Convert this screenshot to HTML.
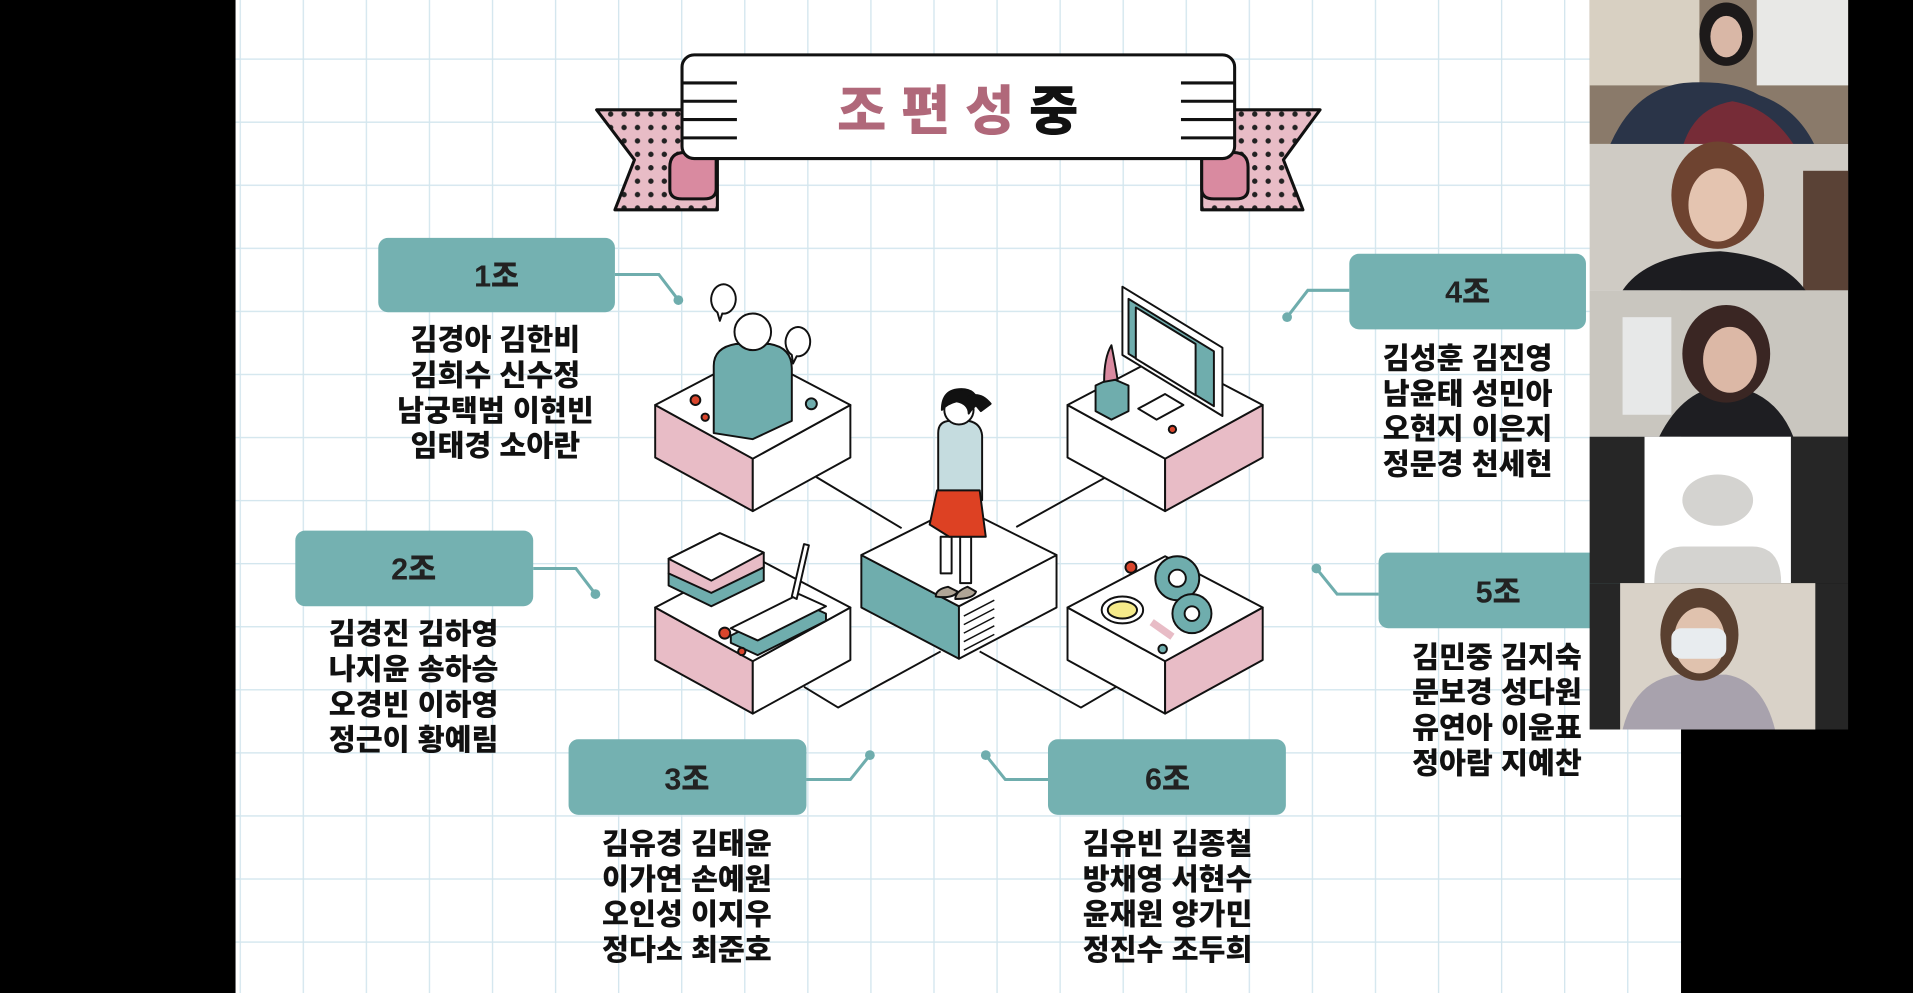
<!DOCTYPE html>
<html><head><meta charset="utf-8"><style>
html,body{margin:0;padding:0;background:#000;}
svg{display:block}
text{font-family:"Liberation Sans","Noto Sans CJK KR",sans-serif;font-weight:900;}
</style></head><body>
<svg width="1913" height="993" viewBox="0 0 1568 814" xmlns="http://www.w3.org/2000/svg">
<defs>
<pattern id="grid" x="248" y="203" width="51.7" height="51.7" patternUnits="userSpaceOnUse">
<rect width="51.7" height="51.7" fill="#fff"/>
<path d="M0 0H51.7M0 0V51.7" stroke="#d3e6ee" stroke-width="2.2"/>
</pattern>
<pattern id="dots" width="11" height="11" patternUnits="userSpaceOnUse">
<rect width="11" height="11" fill="#e8bcc6"/><circle cx="5.5" cy="5.5" r="2.2" fill="#222"/>
</pattern>
</defs>
<rect width="1568" height="814" fill="#000"/>
<rect x="193" y="0" width="1185" height="814" fill="url(#grid)"/>

<!-- banner -->
<g stroke="#111" stroke-width="2.5" stroke-linejoin="round">
<path d="M489 90 H588 V172 H504 L520 131 Z" fill="url(#dots)"/>
<path d="M1082 90 H985 V172 H1068 L1052 131 Z" fill="url(#dots)"/>
<path d="M561 125 q-12 0 -12 12 v18 q0 8 10 8 h18 q10 0 10 -8 v-38z" fill="#d98aa0"/>
<path d="M1011 125 q12 0 12 12 v18 q0 8 -10 8 h-18 q-10 0 -10 -8 v-38z" fill="#d98aa0"/>
<rect x="559" y="45" width="453" height="85" rx="10" fill="#fff"/>
</g>
<g stroke="#111" stroke-width="2.5">
<path d="M559 68h45M559 83h45M559 98h45M559 113h45M968 68h45M968 83h45M968 98h45M968 113h45"/>
</g>
<text x="686" y="106" font-size="44" fill="#b0687a" letter-spacing="12">조편성<tspan fill="#111">중</tspan></text>

<!-- connectors -->
<g stroke="#6fadad" stroke-width="2.5" fill="none">
<path d="M504 225H540L556 246"/><path d="M437 466H472L488 487"/><path d="M661 639H697L713 619"/>
<path d="M1106 238H1072L1055 260"/><path d="M1130 487H1096L1079 466"/><path d="M859 639H824L808 619"/>
</g>
<g fill="#6fadad"><circle cx="556" cy="246" r="4"/><circle cx="488" cy="487" r="4"/><circle cx="713" cy="619" r="4"/><circle cx="1055" cy="260" r="4"/><circle cx="1079" cy="466" r="4"/><circle cx="808" cy="619" r="4"/></g>

<!-- label boxes -->
<g fill="#74b1b1">
<rect x="310" y="195" width="194" height="61" rx="8"/>
<rect x="242" y="435" width="195" height="62" rx="8"/>
<rect x="466" y="606" width="195" height="62" rx="8"/>
<rect x="1106" y="208" width="194" height="62" rx="8"/>
<rect x="1130" y="453" width="200" height="62" rx="8"/>
<rect x="859" y="606" width="195" height="62" rx="8"/>
</g>
<g font-size="25" fill="#222" text-anchor="middle">
<text x="407" y="235">1조</text><text x="339" y="475">2조</text><text x="563" y="647">3조</text>
<text x="1203" y="248">4조</text><text x="1228" y="494">5조</text><text x="957" y="647">6조</text>
</g>
<g font-size="24" fill="#111" text-anchor="middle">
<text x="406" y="287">김경아 김한비</text><text x="406" y="316">김희수 신수정</text><text x="406" y="345">남궁택범 이현빈</text><text x="406" y="374">임태경 소아란</text>
<text x="339" y="528">김경진 김하영</text><text x="339" y="557">나지윤 송하승</text><text x="339" y="586">오경빈 이하영</text><text x="339" y="615">정근이 황예림</text>
<text x="563" y="700">김유경 김태윤</text><text x="563" y="729">이가연 손예원</text><text x="563" y="758">오인성 이지우</text><text x="563" y="787">정다소 최준호</text>
<text x="1203" y="302">김성훈 김진영</text><text x="1203" y="331">남윤태 성민아</text><text x="1203" y="360">오현지 이은지</text><text x="1203" y="389">정문경 천세현</text>
<text x="1227" y="547">김민중 김지숙</text><text x="1227" y="576">문보경 성다원</text><text x="1227" y="605">유연아 이윤표</text><text x="1227" y="634">정아람 지예찬</text>
<text x="957" y="700">김유빈 김종철</text><text x="957" y="729">방채영 서현수</text><text x="957" y="758">윤재원 양가민</text><text x="957" y="787">정진수 조두희</text>
</g>

<!-- illustration -->
<g stroke="#111" stroke-width="1.6" stroke-linejoin="round">
<path d="M669 391L739 433M905 392L833 432M659 563L687 580L771 534M803 534L886 580L915 563" fill="none"/>
<!-- TL -->
<path d="M537 332L617 376V419L537 375Z" fill="#e8bcc6"/><path d="M617 376L697 332V375L617 419Z" fill="#fff"/><path d="M537 332L617 290L697 332L617 376Z" fill="#fff"/>
<!-- TR -->
<path d="M875 332L955 376V419L875 375Z" fill="#fff"/><path d="M955 376L1035 332V375L955 419Z" fill="#e8bcc6"/><path d="M875 332L955 290L1035 332L955 376Z" fill="#fff"/>
<!-- BL -->
<path d="M537 498L617 542V585L537 541Z" fill="#e8bcc6"/><path d="M617 542L697 498V541L617 585Z" fill="#fff"/><path d="M537 498L617 456L697 498L617 542Z" fill="#fff"/>
<!-- BR -->
<path d="M875 498L955 542V585L875 541Z" fill="#fff"/><path d="M955 542L1035 498V541L955 585Z" fill="#e8bcc6"/><path d="M875 498L955 456L1035 498L955 542Z" fill="#fff"/>
<!-- center -->
<path d="M706 455L786 497V540L706 498Z" fill="#6fadad"/><path d="M786 497L866 455V498L786 540Z" fill="#fff"/><path d="M706 455L786 415L866 455L786 497Z" fill="#fff"/>
<path d="M790 505L815 492M790 512L815 499M790 519L815 506M790 526L815 513M790 533L815 520" fill="none" stroke-width="1.2"/>
<!-- person -->
<path d="M585 355V300q0-15 18-18h28q18 3 18 20V345L617 360Z" fill="#6fadad"/>
<circle cx="617" cy="272" r="15" fill="#fff"/>
<path d="M584 240a10 12 0 1 1 8 17l-2 6-2-7a10 12 0 0 1-4-16z" fill="#fff"/>
<path d="M645 275a10 12 0 1 1 8 17l-3 6-1-7a10 12 0 0 1-4-16z" fill="#fff"/>
<circle cx="570" cy="328" r="4" fill="#d9452c"/><circle cx="578" cy="342" r="3" fill="#d9452c"/><circle cx="665" cy="331" r="4.5" fill="#6fadad"/>
<!-- monitor -->
<path d="M920 235L1002 285V341L920 291Z" fill="#fff"/><path d="M925 245L995 288V333L925 290Z" fill="#6fadad"/><path d="M931 252L980 282V324L931 294Z" fill="#fff"/>
<path d="M933 335L955 323L970 332L948 344Z" fill="#fff"/>
<path d="M898 316L911 310L925 316V337L911 344L898 337Z" fill="#6fadad"/>
<path d="M905 313q0-20 6-30q3 15 5 28z" fill="#d98aa0"/>
<circle cx="961" cy="352" r="3" fill="#d9452c"/>
<!-- books & notebook -->
<path d="M548 470L590 447L626 463V476L583 497L548 480Z" fill="#6fadad"/>
<path d="M548 458L590 437L626 453V465L583 486L548 470Z" fill="#e8bcc6"/>
<path d="M548 458L590 437L626 453L583 476Z" fill="#fff"/>
<path d="M599 521L655 493L677 503V509L621 537L599 527Z" fill="#6fadad"/>
<path d="M599 515L655 487L677 497L621 525Z" fill="#fff"/>
<path d="M649 489L659 446L663 447L653 491Z" fill="#fff"/>
<circle cx="594" cy="519" r="4.5" fill="#d9452c"/><circle cx="608" cy="534" r="3" fill="#d9452c"/>
<!-- gears -->
<circle cx="965" cy="474" r="18" fill="#6fadad"/><circle cx="965" cy="474" r="7" fill="#fff"/>
<circle cx="977" cy="503" r="16" fill="#6fadad"/><circle cx="977" cy="503" r="6" fill="#fff"/>
<path d="M944 510L961 522" stroke-width="6" stroke="#e8bcc6"/>
<ellipse cx="920" cy="500" rx="17" ry="11" fill="#fff"/><ellipse cx="920" cy="500" rx="12" ry="7" fill="#f5ea8a"/>
<circle cx="927" cy="465" r="4.5" fill="#d9452c"/><circle cx="953" cy="532" r="3.5" fill="#6fadad"/>
<!-- girl -->
<path d="M785 485q-4 6-18 4q0-6 10-8z" fill="#b0a596"/><path d="M800 485q-2 6-17 6q0-6 10-10z" fill="#b0a596"/>
<path d="M771 440V470h9V440zM787 440V478h9V440z" fill="#fff"/>
<path d="M769 355q0-10 10-10h15q10 2 11 12V410H769Z" fill="#c5dcdf"/>
<path d="M768 402L762 430L778 440H808L803 402Z" fill="#dd4123"/>
<circle cx="786" cy="336" r="12" fill="#fff"/>
<path d="M772 336q0-17 16-17q12 0 14 12q-4 2-8 8q0-8-10-10q-8 2-12 7z" fill="#111"/>
<path d="M794 325q10-4 18 6l-8 6z" fill="#111"/>
</g>

<!-- video panel -->
<rect x="1303" y="0" width="212" height="118" fill="#8a7a6a"/>
<rect x="1303" y="0" width="90" height="70" fill="#d8d0c2"/>
<rect x="1440" y="0" width="75" height="70" fill="#e8e8e6"/>
<path d="M1320 118q20-45 60-50q40-3 62 10q30 10 45 40z" fill="#2a3448"/>
<path d="M1380 118q10-30 40-35q30 5 50 35z" fill="#8a2a33" opacity=".8"/>
<ellipse cx="1415" cy="28" rx="22" ry="26" fill="#1d1a1a"/><ellipse cx="1415" cy="30" rx="13" ry="17" fill="#d9b7a6"/>
<rect x="1303" y="118" width="212" height="120" fill="#cfcbc4"/>
<rect x="1478" y="140" width="37" height="98" fill="#5a4236"/>
<path d="M1330 238q20-30 80-32q50 4 70 32z" fill="#1c1c20"/>
<ellipse cx="1408" cy="160" rx="38" ry="44" fill="#6e4330"/><ellipse cx="1408" cy="168" rx="24" ry="30" fill="#e4c4b0"/>
<rect x="1303" y="238" width="212" height="120" fill="#c9c6bf"/>
<rect x="1330" y="260" width="40" height="80" fill="#e7e8e8"/>
<path d="M1360 358q20-40 55-42q40 4 55 42z" fill="#1e1e22"/>
<ellipse cx="1415" cy="290" rx="36" ry="40" fill="#3a2623"/><ellipse cx="1418" cy="295" rx="22" ry="27" fill="#dcb8a6"/>
<rect x="1303" y="358" width="212" height="120" fill="#262626"/>
<rect x="1348" y="358" width="120" height="120" fill="#fff"/>
<ellipse cx="1408" cy="410" rx="29" ry="21" fill="#d4d3d0"/>
<path d="M1356 478q0-30 24-30h56q24 0 24 30z" fill="#d4d3d0"/>
<rect x="1303" y="478" width="212" height="120" fill="#262626"/>
<rect x="1328" y="478" width="160" height="120" fill="#d9d2c8"/>
<path d="M1330 598q10-40 45-45h40q30 5 40 45z" fill="#a8a2ad"/>
<ellipse cx="1393" cy="520" rx="32" ry="38" fill="#5a4030"/><ellipse cx="1393" cy="525" rx="21" ry="27" fill="#e0c2ae"/>
<rect x="1370" y="515" width="45" height="25" rx="8" fill="#e8ecef"/>
<rect x="1378" y="598" width="190" height="216" fill="#000"/>
<rect x="1515" y="0" width="53" height="598" fill="#000"/>
</svg>
</body></html>
